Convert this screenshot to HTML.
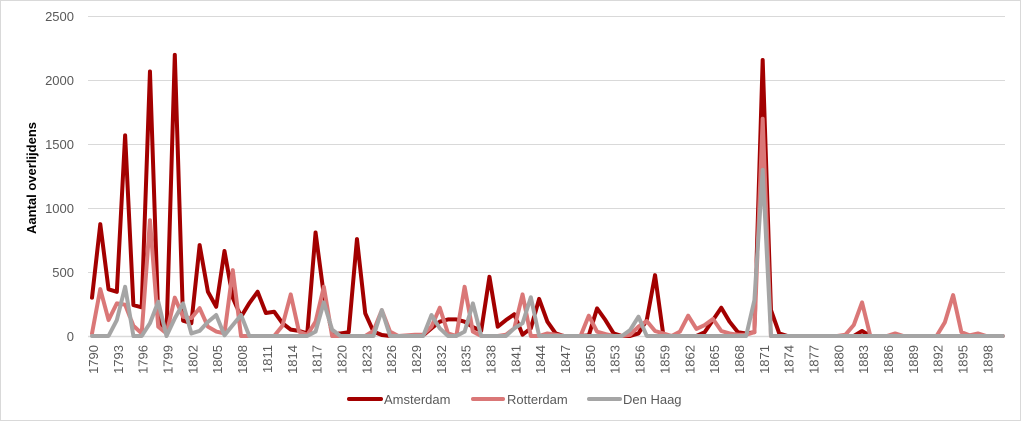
<!DOCTYPE html>
<html>
<head>
<meta charset="utf-8">
<style>
  html, body { margin: 0; padding: 0; background: #ffffff; }
  body { width: 1024px; height: 423px; overflow: hidden; }
  svg { display: block; font-family: "Liberation Sans", Arial, sans-serif; }
  .tick { font-size: 13px; fill: #595959; }
  .leg { font-size: 13px; fill: #595959; }
  .ln { fill: none; stroke-width: 4; stroke-linejoin: round; stroke-linecap: round; vector-effect: non-scaling-stroke; }
</style>
</head>
<body>
<svg width="1024" height="423" viewBox="0 0 1024 423" xmlns="http://www.w3.org/2000/svg">
  <rect x="0" y="0" width="1024" height="423" fill="#ffffff"/>
  <rect x="0.5" y="0.5" width="1020" height="420" fill="none" stroke="#d9d9d9" stroke-width="1"/>

  <!-- gridlines -->
  <g stroke="#d9d9d9" stroke-width="1">
    <line x1="88" y1="16.5" x2="1005" y2="16.5"/>
    <line x1="88" y1="80.5" x2="1005" y2="80.5"/>
    <line x1="88" y1="144.5" x2="1005" y2="144.5"/>
    <line x1="88" y1="208.5" x2="1005" y2="208.5"/>
    <line x1="88" y1="272.5" x2="1005" y2="272.5"/>
  </g>
  <line x1="88" y1="336.5" x2="1005" y2="336.5" stroke="#d9d9d9" stroke-width="1.5"/>

  <!-- y tick labels -->
  <g class="tick" text-anchor="end">
    <text x="74" y="21">2500</text>
    <text x="74" y="85">2000</text>
    <text x="74" y="149">1500</text>
    <text x="74" y="213">1000</text>
    <text x="74" y="277">500</text>
    <text x="74" y="341">0</text>
  </g>

  <!-- y axis title -->
  <text transform="translate(36,178) rotate(-90)" text-anchor="middle" font-size="13" font-weight="bold" fill="#000000">Aantal overlijdens</text>

  <!-- series -->
  <g transform="translate(92,336) scale(8.28,-0.1278)">
    <polyline class="ln" stroke="#a30000" points="0,300 1,875 2,365 3,346 4,1570 5,242 6,224 7,2070 8,150 9,20 10,2200 11,120 12,100 13,711 14,346 15,229 16,665 17,300 18,150 19,257 20,346 21,180 22,190 23,100 24,50 25,40 26,20 27,810 28,320 29,20 30,20 31,30 32,758 33,177 34,34 35,8 36,0 37,0 38,0 39,0 40,5 41,60 42,112 43,130 44,130 45,112 46,70 47,40 48,463 49,73 50,125 51,170 52,10 53,60 54,290 55,112 56,20 57,0 58,0 59,0 60,5 61,216 62,125 63,20 64,0 65,0 66,20 67,125 68,476 69,8 70,0 71,0 72,0 73,0 74,30 75,125 76,221 77,112 78,30 79,20 80,30 81,2160 82,203 83,20 84,0 92,0 93,39 94,0 110,0"/>
    <polyline class="ln" stroke="#da7777" points="0,20 1,367 2,125 3,255 4,245 5,80 6,20 7,906 8,73 9,20 10,300 11,150 12,140 13,218 14,73 15,35 16,20 17,515 18,0 22,0 23,80 24,325 25,34 26,8 27,112 28,385 29,0 33,0 34,40 35,203 36,34 37,0 38,5 39,10 40,10 41,73 42,221 43,20 44,0 45,385 46,34 47,0 49,0 50,10 51,60 52,325 53,0 54,0 55,20 56,10 57,0 59,0 60,159 61,34 62,15 63,0 64,0 65,10 66,73 67,117 68,39 69,20 70,0 71,34 72,159 73,55 74,86 75,133 76,39 77,20 78,10 79,10 80,30 81,1700 82,0 90,0 91,10 92,86 93,263 94,0 96,0 97,20 98,0 102,0 103,107 104,320 105,30 106,5 107,20 108,0 110,0"/>
    <polyline class="ln" stroke="#a5a5a5" points="0,0 2,0 3,125 4,385 5,0 6,0 7,100 8,268 9,0 10,138 11,255 12,20 13,40 14,110 15,164 16,5 17,85 18,164 19,0 26,0 27,34 28,263 29,50 30,0 34,0 35,203 36,0 40,0 41,164 42,60 43,0 44,0 45,34 46,255 47,0 50,0 51,60 52,100 53,303 54,0 64,0 65,47 66,151 67,0 79,0 80,280 81,1300 82,0 110,0"/>
  </g>

  <!-- x tick labels -->
  <g class="tick" text-anchor="end">
    <text transform="translate(98,345) rotate(-90)">1790</text>
    <text transform="translate(122.8,345) rotate(-90)">1793</text>
    <text transform="translate(147.7,345) rotate(-90)">1796</text>
    <text transform="translate(172.5,345) rotate(-90)">1799</text>
    <text transform="translate(197.4,345) rotate(-90)">1802</text>
    <text transform="translate(222.2,345) rotate(-90)">1805</text>
    <text transform="translate(247.1,345) rotate(-90)">1808</text>
    <text transform="translate(271.9,345) rotate(-90)">1811</text>
    <text transform="translate(296.8,345) rotate(-90)">1814</text>
    <text transform="translate(321.6,345) rotate(-90)">1817</text>
    <text transform="translate(346.4,345) rotate(-90)">1820</text>
    <text transform="translate(371.3,345) rotate(-90)">1823</text>
    <text transform="translate(396.1,345) rotate(-90)">1826</text>
    <text transform="translate(421.0,345) rotate(-90)">1829</text>
    <text transform="translate(445.8,345) rotate(-90)">1832</text>
    <text transform="translate(470.7,345) rotate(-90)">1835</text>
    <text transform="translate(495.5,345) rotate(-90)">1838</text>
    <text transform="translate(520.4,345) rotate(-90)">1841</text>
    <text transform="translate(545.2,345) rotate(-90)">1844</text>
    <text transform="translate(570.1,345) rotate(-90)">1847</text>
    <text transform="translate(594.9,345) rotate(-90)">1850</text>
    <text transform="translate(619.7,345) rotate(-90)">1853</text>
    <text transform="translate(644.6,345) rotate(-90)">1856</text>
    <text transform="translate(669.4,345) rotate(-90)">1859</text>
    <text transform="translate(694.3,345) rotate(-90)">1862</text>
    <text transform="translate(719.1,345) rotate(-90)">1865</text>
    <text transform="translate(744.0,345) rotate(-90)">1868</text>
    <text transform="translate(768.8,345) rotate(-90)">1871</text>
    <text transform="translate(793.7,345) rotate(-90)">1874</text>
    <text transform="translate(818.5,345) rotate(-90)">1877</text>
    <text transform="translate(843.3,345) rotate(-90)">1880</text>
    <text transform="translate(868.2,345) rotate(-90)">1883</text>
    <text transform="translate(893.0,345) rotate(-90)">1886</text>
    <text transform="translate(917.9,345) rotate(-90)">1889</text>
    <text transform="translate(942.7,345) rotate(-90)">1892</text>
    <text transform="translate(967.6,345) rotate(-90)">1895</text>
    <text transform="translate(992.4,345) rotate(-90)">1898</text>
  </g>

  <!-- legend -->
  <g>
    <line x1="349" y1="399" x2="381" y2="399" stroke="#a30000" stroke-width="4" stroke-linecap="round"/>
    <text class="leg" x="384" y="404">Amsterdam</text>
    <line x1="473" y1="399" x2="503" y2="399" stroke="#da7777" stroke-width="4" stroke-linecap="round"/>
    <text class="leg" x="507" y="404">Rotterdam</text>
    <line x1="589" y1="399" x2="620" y2="399" stroke="#a5a5a5" stroke-width="4" stroke-linecap="round"/>
    <text class="leg" x="623" y="404">Den Haag</text>
  </g>
</svg>
</body>
</html>
